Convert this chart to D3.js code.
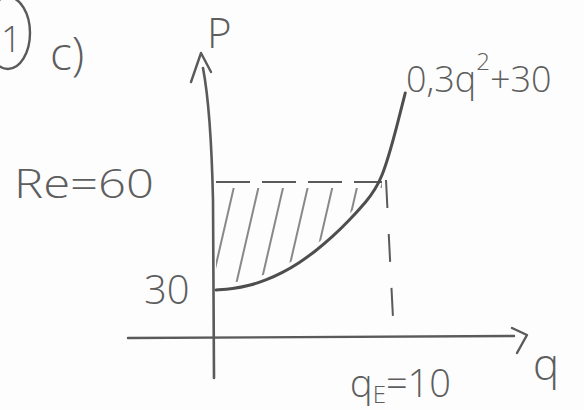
<!DOCTYPE html>
<html>
<head>
<meta charset="utf-8">
<script src="https://cdn.jsdelivr.net/npm/d3@7"></script>
<style>
  html, body { margin: 0; padding: 0; background: #fdfdfd; }
  svg { display: block; }
  text { font-family: "Open Sans", "DejaVu Sans", sans-serif; fill: #5e5e5e; font-weight: 300; }
</style>
</head>
<body>
<div id="chart"></div>
<script>
// Supply curve p = 0.3 q^2 + 30, sampled at these quantities
const curveQ = [0, 1, 2, 3, 4, 5, 6, 7, 8, 9, 10, 11, 11.4];
const curveP = [30, 30.3, 31.2, 32.7, 34.8, 37.5, 40.8, 44.7, 49.2, 54.3, 60, 66.3, 69];

// Equilibrium and intercept
const eqQuantity = 10;
const eqPrice = 60;
const interceptPrice = 30;

// Text labels
const curveLabel = ["0,3q", "2", "+30"];
const priceLabel = "Re=60";
const interceptLabel = "30";
const quantityLabel = ["q", "E", "=10"];
const axisLabels = { p: "P", q: "q" };
const partLabel = "c)";

const W = 584, H = 410;
const svg = d3.select("#chart").append("svg")
  .attr("width", W).attr("height", H);

svg.append("rect").attr("width", W).attr("height", H).attr("fill", "#fdfdfd");

const x = d3.scaleLinear().domain([0, 10]).range([216, 382]);
const y = d3.scaleLinear().domain([30, 60, 69]).range([290, 182, 93]);

const axisY = 338;
const ink = "#5a5a5a";

const pts = curveQ.map((q, i) => ({ q, p: curveP[i] }));

// Hatch pattern for the shaded region
const defs = svg.append("defs");
const pat = defs.append("pattern")
  .attr("id", "hatch")
  .attr("patternUnits", "userSpaceOnUse")
  .attr("width", 24).attr("height", 400)
  .attr("patternTransform", "rotate(13)");
pat.append("line")
  .attr("x1", 6).attr("y1", 0).attr("x2", 6).attr("y2", 400)
  .attr("stroke", "#6a6a6a").attr("stroke-width", 1.6);

// Shaded area between the price line and the curve
const inside = pts.filter(d => d.q <= eqQuantity);
const area = d3.area()
  .x(d => x(d.q))
  .y0(y(eqPrice) + 6)
  .y1(d => y(d.p) - 6)
  .curve(d3.curveBasis);
svg.append("path")
  .datum(inside)
  .attr("d", area)
  .attr("fill", "url(#hatch)");

// Axes
svg.append("line")
  .attr("x1", 128).attr("y1", axisY).attr("x2", 514).attr("y2", axisY - 2)
  .attr("stroke", ink).attr("stroke-width", 2.4).attr("stroke-linecap", "round");
svg.append("path")
  .attr("d", "M512,328 L527,335 L517,353")
  .attr("fill", "none").attr("stroke", ink).attr("stroke-width", 2.4)
  .attr("stroke-linecap", "round").attr("stroke-linejoin", "round");

svg.append("path")
  .attr("d", `M${x(0) - 2},378 L${x(0) - 3},200 Q${x(0) - 5},110 203,68`)
  .attr("fill", "none").attr("stroke", ink).attr("stroke-width", 2.6)
  .attr("stroke-linecap", "round");
svg.append("path")
  .attr("d", "M191,82 L201,53 L211,72")
  .attr("fill", "none").attr("stroke", ink).attr("stroke-width", 2.4)
  .attr("stroke-linecap", "round").attr("stroke-linejoin", "round");

// Dashed guides at the equilibrium
svg.append("line")
  .attr("x1", x(0)).attr("y1", y(eqPrice)).attr("x2", x(eqQuantity)).attr("y2", y(eqPrice))
  .attr("stroke", ink).attr("stroke-width", 2)
  .attr("stroke-dasharray", "34 12");
svg.append("line")
  .attr("x1", x(eqQuantity) + 4).attr("y1", y(eqPrice) - 2)
  .attr("x2", x(eqQuantity) + 11).attr("y2", 318)
  .attr("stroke", ink).attr("stroke-width", 2)
  .attr("stroke-dasharray", "28 26");

// Supply curve
const line = d3.line()
  .x(d => x(d.q))
  .y(d => y(d.p))
  .curve(d3.curveBasis);
svg.append("path")
  .datum(pts)
  .attr("d", line)
  .attr("fill", "none").attr("stroke", "#4e4e4e").attr("stroke-width", 3)
  .attr("stroke-linecap", "round");

// Part marker
svg.append("ellipse")
  .attr("cx", 8).attr("cy", 33).attr("rx", 22).attr("ry", 36)
  .attr("fill", "none").attr("stroke", ink).attr("stroke-width", 2.4);
svg.append("text").attr("x", 1).attr("y", 52).attr("font-size", 36).text("1");
svg.append("text").attr("x", 50).attr("y", 70).attr("font-size", 46).text(partLabel);

// Labels
svg.append("text").attr("x", 207).attr("y", 48).attr("font-size", 42).text(axisLabels.p);
svg.append("text").attr("x", 533).attr("y", 380).attr("font-size", 44).text(axisLabels.q);

const cl = svg.append("text").attr("x", 406).attr("y", 92).attr("font-size", 36);
cl.append("tspan").text(curveLabel[0]);
cl.append("tspan").attr("dy", -22).attr("font-size", 24).text(curveLabel[1]);
cl.append("tspan").attr("dy", 22).text(curveLabel[2]);

svg.append("text").attr("x", 14).attr("y", 198).attr("font-size", 40)
  .attr("textLength", 140).attr("lengthAdjust", "spacingAndGlyphs").text(priceLabel);
svg.append("text").attr("x", x(0) - 72).attr("y", y(interceptPrice) + 14).attr("font-size", 40)
  .text(interceptLabel);

const ql = svg.append("text").attr("x", 350).attr("y", 397).attr("font-size", 38);
ql.append("tspan").text(quantityLabel[0]);
ql.append("tspan").attr("dy", 6).attr("font-size", 24).text(quantityLabel[1]);
ql.append("tspan").attr("dy", -6).text(quantityLabel[2]);
</script>
</body>
</html>
